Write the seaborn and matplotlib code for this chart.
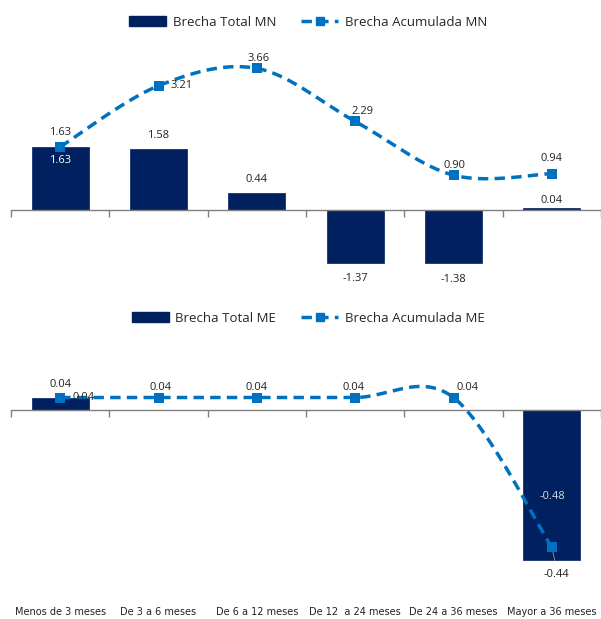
import numpy as np
import pandas as pd
import matplotlib
matplotlib.use("Agg")
import matplotlib.pyplot as plt
import seaborn as sns
from matplotlib.lines import Line2D
from matplotlib.patches import Patch
import matplotlib.transforms as mtransforms

# ---------------- data ----------------
categories = ["Menos de 3 meses", "De 3 a 6 meses", "De 6 a 12 meses",
              "De 12  a 24 meses", "De 24 a 36 meses", "Mayor a 36 meses"]
mn_total = [1.63, 1.58, 0.44, -1.37, -1.38, 0.04]
mn_acum = [1.63, 3.21, 3.66, 2.29, 0.90, 0.94]
me_total = [0.04, 0.0, 0.0, 0.0, 0.0, -0.48]
me_acum = [0.04, 0.04, 0.04, 0.04, 0.04, -0.44]

NAVY = "#002060"
BLUE = "#0070C0"
DASH = (0, (3, 1.8))

sns.set_theme(style="white")
plt.rcParams['font.family'] = ['Open Sans', 'DejaVu Sans']


def smooth(xs, ys, n=40):
    """Excel-like smoothed line: cubic Bezier with Catmull-Rom control points."""
    P = np.column_stack([np.asarray(xs, float), np.asarray(ys, float)])
    k = len(P)
    ext = np.vstack([P[0], P, P[-1]])
    out = []
    for i in range(k - 1):
        p0, p1 = ext[i + 1], ext[i + 2]
        b1 = p0 + (ext[i + 2] - ext[i]) / 6.0
        b2 = p1 - (ext[i + 3] - ext[i + 1]) / 6.0
        t = np.linspace(0, 1, n, endpoint=(i == k - 2))[:, None]
        seg = ((1 - t) ** 3) * p0 + 3 * t * (1 - t) ** 2 * b1 + 3 * t ** 2 * (1 - t) * b2 + t ** 3 * p1
        out.append(seg)
    out = np.vstack(out)
    return out[:, 0], out[:, 1]


def draw_panel(ax, totals, acum, ylim, bar_offsets, line_offsets,
               bar_colors, label_total, label_acum, legend_y, leader_idx=None):
    df = pd.DataFrame({"cat": categories, "total": totals})
    sns.barplot(data=df, x="cat", y="total", color=NAVY, width=0.58,
                saturation=1, ax=ax, edgecolor=NAVY, linewidth=0.5)
    pos = np.arange(len(categories))
    sx, sy = smooth(pos, acum)
    sns.lineplot(x=sx, y=sy, ax=ax, color=BLUE, linewidth=2.5,
                 linestyle=DASH, sort=False, estimator=None)
    sns.scatterplot(x=pos, y=acum, ax=ax, marker="s", s=42, color=BLUE,
                    edgecolor=BLUE, linewidth=0, zorder=5)

    ax.set_xlim(-0.5, len(categories) - 0.5)
    ax.set_ylim(*ylim)
    for s in ["top", "right", "left"]:
        ax.spines[s].set_visible(False)
    ax.spines["bottom"].set_position(("data", 0))
    ax.spines["bottom"].set_color("#808080")
    ax.spines["bottom"].set_linewidth(1.0)
    ax.set_yticks([])
    ax.set_xticks(np.arange(-0.5, len(categories), 1.0))
    ax.set_xticklabels([])
    ax.tick_params(axis="x", which="major", direction="out", length=5,
                   color="#808080", width=1.0, bottom=True)
    ax.set_xlabel("")
    ax.set_ylabel("")

    # bar labels
    for i, v in enumerate(totals):
        off = bar_offsets[i]
        if off is None:
            continue
        ax.annotate(f"{v:.2f}", (i, v), xytext=(off[0] * 0.72, -off[1] * 0.72),
                    textcoords="offset points", ha="center", va="center",
                    fontsize=8, color=bar_colors[i], zorder=6)
    # line labels
    for i, v in enumerate(acum):
        off = line_offsets[i]
        if off is None:
            continue
        ax.annotate(f"{v:.2f}", (i, v), xytext=(off[0] * 0.72, -off[1] * 0.72),
                    textcoords="offset points", ha="center", va="center",
                    fontsize=8, color="#222222", zorder=6)
        if leader_idx is not None and i == leader_idx:
            ax.annotate("", (i, v), xytext=(off[0] * 0.72 - 1, -off[1] * 0.72 + 8),
                        textcoords="offset points",
                        arrowprops=dict(arrowstyle="-", color="#999999", lw=0.6))

    handles = [Patch(facecolor=NAVY, edgecolor=NAVY, label=label_total),
               Line2D([0], [0], color=BLUE, lw=2.5, linestyle=DASH,
                      marker="s", markersize=6, label=label_acum)]
    ax.figure.legend(handles=handles, loc="center", bbox_to_anchor=(0.513, legend_y),
                     ncol=2, frameon=False, fontsize=9.5, handlelength=2.8,
                     handleheight=0.7, columnspacing=1.9, handletextpad=0.5)


fig = plt.figure(figsize=(6.01, 6.19), dpi=100)
W, H = 601, 619
ax1 = fig.add_axes([11 / W, 1 - 295 / H, 590 / W, 250 / H])
ax2 = fig.add_axes([11 / W, 1 - 590 / H, 590 / W, 250 / H])

# top panel (MN)
draw_panel(ax1, mn_total, mn_acum, (-2.196, 4.264),
           bar_offsets=[(0, 14), (0, -13), (0, -13), (0, 15), (0, 16), (0, -8)],
           line_offsets=[(0, -14), (23, 0), (2, -10), (7, -10), (1, -10), (0, -15)],
           bar_colors=["white", "#222222", "#222222", "#222222", "#222222", "#222222"],
           label_total="Brecha Total MN", label_acum="Brecha Acumulada MN",
           legend_y=1 - 22 / H)

# bottom panel (ME)
draw_panel(ax2, me_total, me_acum, (-0.577, 0.2244),
           bar_offsets=[(0, -13), None, None, None, None, (1, -63)],
           line_offsets=[(23, 0), (2, -10), (0, -10), (-2, -10), (14, -10), (5, 27)],
           bar_colors=["#222222", None, None, None, None, "#d9d9d9"],
           label_total="Brecha Total ME", label_acum="Brecha Acumulada ME",
           legend_y=1 - 318 / H, leader_idx=5)

# category labels under bottom panel
trans = mtransforms.blended_transform_factory(ax2.transData, fig.transFigure)
for i, c in enumerate(categories):
    ax2.text(i, 1 - 612 / H, c, transform=trans, ha="center", va="center",
             fontsize=7, color="#222222", family=["Liberation Sans Narrow", "DejaVu Sans"])

fig.savefig("out.png", dpi=100)
